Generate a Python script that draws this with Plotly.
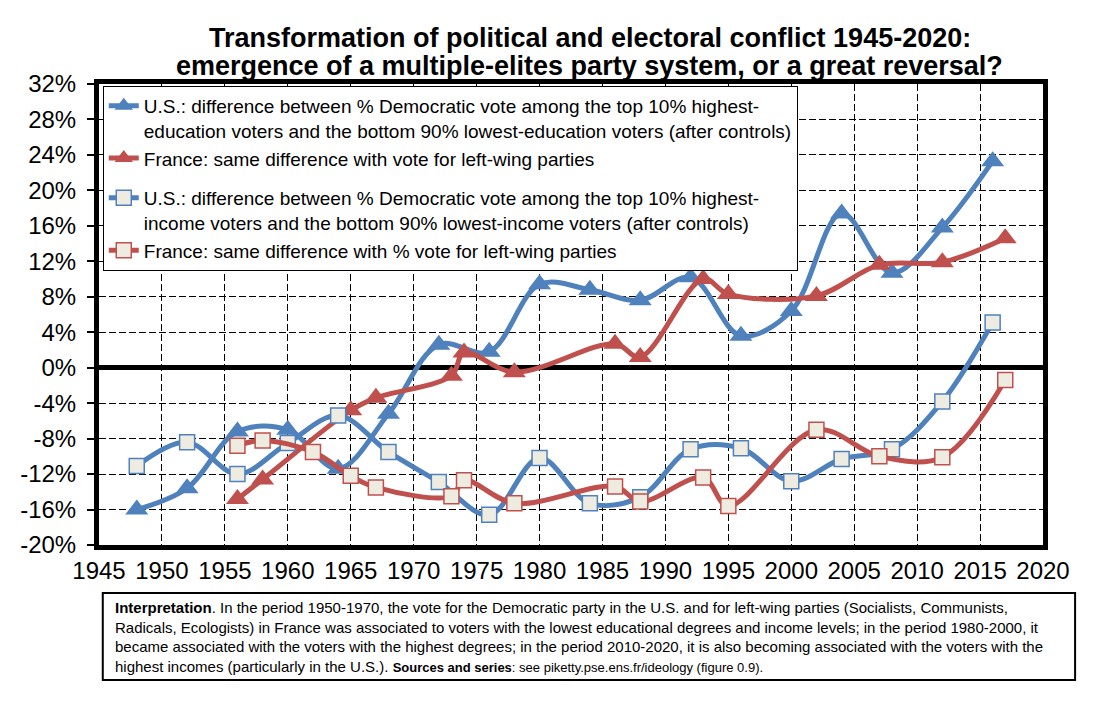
import plotly.graph_objects as go

# ---- data (values in %) ----
us_years = [1948, 1952, 1956, 1960, 1964, 1968, 1972, 1976, 1980, 1984,
            1988, 1992, 1996, 2000, 2004, 2008, 2012, 2016]
us_edu = [-16.0, -13.6, -7.2, -7.0, -11.4, -5.2, 2.6, 1.8, 9.4, 8.8,
          7.6, 10.2, 3.6, 6.4, 17.4, 10.7, 15.8, 23.3]
us_inc = [-11.1, -8.4, -12.0, -8.5, -5.4, -9.5, -12.9, -16.6, -10.2, -15.3,
          -14.6, -9.2, -9.1, -12.8, -10.3, -9.2, -3.8, 5.1]

fr_edu_years = [1956, 1958, 1965, 1967, 1973, 1974, 1978, 1986, 1988, 1993,
                1995, 2002, 2007, 2012, 2017]
fr_edu = [-14.8, -12.6, -4.8, -3.4, -0.9, 1.7, -0.5, 2.7, 1.2, 10.0,
          8.3, 8.1, 11.6, 11.9, 14.6]

fr_inc_years = [1956, 1958, 1962, 1965, 1967, 1973, 1974, 1978, 1986, 1988,
                1993, 1995, 2002, 2007, 2012, 2017]
fr_inc = [-8.8, -8.2, -9.5, -12.2, -13.5, -14.5, -12.7, -15.3, -13.4, -15.1,
          -12.4, -15.6, -7.0, -10.0, -10.1, -1.4]

y_ticks = [-20, -16, -12, -8, -4, 0, 4, 8, 12, 16, 20, 24, 28, 32]
y_labels = ["-20%", "-16%", "-12%", "-8%", "-4%", "0%", "4%", "8%",
            "12%", "16%", "20%", "24%", "28%", "32%"]

title_lines = [
    "Transformation of political and electoral conflict 1945-2020:",
    "emergence of a multiple-elites party system, or a great reversal?",
]

legend_names = [
    "U.S.: difference between % Democratic vote among the top 10% highest-<br>"
    "education voters and the bottom 90% lowest-education voters (after controls)",
    "France: same difference with vote for left-wing parties",
    "U.S.: difference between % Democratic vote among the top 10% highest-<br>"
    "income voters and the bottom 90% lowest-income voters (after controls)",
    "France: same difference with % vote for left-wing parties",
]

BLUE = "#4F81BD"
RED = "#C0504D"
BEIGE = "#EEECE1"
FONT = "Liberation Sans, Arial, sans-serif"

fig = go.Figure()

# education series (triangles)
fig.add_trace(go.Scatter(
    x=us_years, y=us_edu, name=legend_names[0], legendgroup="edu",
    mode="lines+markers", line=dict(color=BLUE, width=5, shape="spline"),
    marker=dict(symbol="triangle-up", size=20, color=BLUE)))
fig.add_trace(go.Scatter(
    x=fr_edu_years, y=fr_edu, name=legend_names[1], legendgroup="edu",
    mode="lines+markers", line=dict(color=RED, width=5, shape="spline"),
    marker=dict(symbol="triangle-up", size=20, color=RED)))

# income series (squares)
fig.add_trace(go.Scatter(
    x=us_years, y=us_inc, name=legend_names[2], legendgroup="inc",
    mode="lines+markers", line=dict(color=BLUE, width=5, shape="spline"),
    marker=dict(symbol="square", size=15, color=BEIGE, line=dict(color=BLUE, width=1.5))))
fig.add_trace(go.Scatter(
    x=fr_inc_years, y=fr_inc, name=legend_names[3], legendgroup="inc",
    mode="lines+markers", line=dict(color=RED, width=5, shape="spline"),
    marker=dict(symbol="square", size=15, color=BEIGE, line=dict(color=RED, width=1.5))))

# title: two annotations so the line spacing can be kept tight
for txt, ypos in zip(title_lines, [1.0997, 1.039]):
    fig.add_annotation(text="<b>" + txt + "</b>", xref="paper", yref="paper",
                       x=0.52, y=ypos, xanchor="center", yanchor="middle",
                       showarrow=False, font=dict(family=FONT, size=27, color="black"))

# interpretation box under the chart
fig.add_shape(type="rect", xref="paper", yref="paper",
              x0=0.004, x1=1.034, y0=-0.104, y1=-0.293,
              line=dict(color="black", width=2), fillcolor="white", layer="below")

note = ("<b>Interpretation</b>. In the period 1950-1970, the vote for the Democratic party in the U.S. "
        "and for left-wing parties (Socialists, Communists,<br>"
        "Radicals, Ecologists) in France was associated to voters with the lowest educational degrees "
        "and income levels; in the period 1980-2000, it<br>"
        "became associated with the voters with the highest degrees; in the period 2010-2020, it is "
        "also becoming associated with the voters with the<br>"
        "highest incomes (particularly in the U.S.). "
        "<span style='font-size:13px'><b>Sources and series</b>: "
        "see piketty.pse.ens.fr/ideology (figure 0.9).</span>")
fig.add_annotation(text=note, xref="paper", yref="paper", x=0.0147, y=-0.113,
                   xanchor="left", yanchor="top", align="left", showarrow=False,
                   font=dict(family=FONT, size=15, color="black"))

# page body adds an 8px margin, so the figure is drawn 8px smaller
fig.update_layout(
    width=1089, height=701,
    margin=dict(l=85, r=54, t=76, b=164),
    paper_bgcolor="white", plot_bgcolor="white",
    font=dict(family=FONT, color="black"),
    legend=dict(
        x=0.004, y=0.996, xanchor="left", yanchor="top",
        bgcolor="white", bordercolor="black", borderwidth=1,
        font=dict(family=FONT, size=19, color="black"),
        traceorder="grouped", tracegroupgap=12, valign="top",
        itemwidth=30),
)

fig.update_xaxes(
    range=[1945, 2020], dtick=5, tick0=1945,
    showline=True, linecolor="black", linewidth=5, mirror=True,
    showgrid=True, gridcolor="black", gridwidth=1, griddash="7px,3px",
    ticks="", tickfont=dict(size=24), zeroline=False)
fig.update_yaxes(
    range=[-20, 32], tickvals=y_ticks, ticktext=y_labels,
    showline=True, linecolor="black", linewidth=5, mirror=True,
    showgrid=True, gridcolor="black", gridwidth=1, griddash="7px,3px",
    ticks="outside", ticklen=7, tickwidth=1.5, tickcolor="black",
    tickfont=dict(size=24), ticklabelstandoff=6,
    zeroline=True, zerolinecolor="black", zerolinewidth=5)

fig.write_html("out.html")
